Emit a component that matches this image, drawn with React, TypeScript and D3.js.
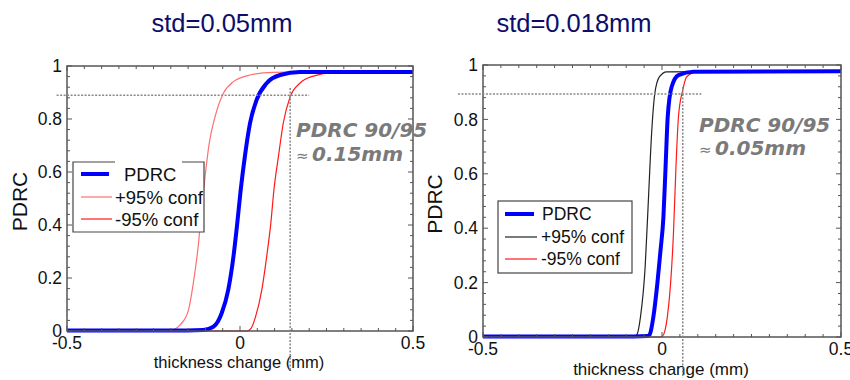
import React from 'react';
import * as d3 from 'd3';

// values: [thickness change (mm), PDRC]
const leftPdrc: [number, number][] = [
  [-0.5, 0.002], [-0.2, 0.002], [-0.106, 0.004], [-0.077, 0.016], [-0.053, 0.067], [-0.034, 0.155],
  [-0.019, 0.28], [-0.008, 0.406], [0.002, 0.532], [0.014, 0.658], [0.029, 0.784],
  [0.048, 0.872], [0.077, 0.935], [0.116, 0.966], [0.173, 0.977], [0.5, 0.977],
];
const leftPlus: [number, number][] = [
  [-0.5, 0.0], [-0.21, 0.0], [-0.193, 0.004], [-0.173, 0.023], [-0.149, 0.079], [-0.135, 0.18],
  [-0.12, 0.33], [-0.111, 0.457], [-0.101, 0.582], [-0.089, 0.708], [-0.072, 0.809],
  [-0.048, 0.897], [-0.019, 0.941], [0.029, 0.966], [0.096, 0.976], [0.27, 0.979], [0.5, 0.979],
];
const leftMinus: [number, number][] = [
  [-0.5, 0.0], [0.02, 0.0], [0.032, 0.01], [0.045, 0.054], [0.063, 0.155], [0.077, 0.28],
  [0.089, 0.406], [0.098, 0.532], [0.111, 0.658], [0.125, 0.784], [0.145, 0.884],
  [0.173, 0.935], [0.212, 0.962], [0.27, 0.975], [0.5, 0.979],
];

const rightPdrc: [number, number][] = [
  [-0.5, 0.002], [-0.12, 0.002], [-0.04, 0.004], [-0.034, 0.01], [-0.024, 0.075], [-0.013, 0.197],
  [-0.004, 0.32], [0.004, 0.442], [0.01, 0.626], [0.016, 0.81], [0.027, 0.92],
  [0.046, 0.963], [0.088, 0.975], [0.5, 0.977],
];
const rightPlus: [number, number][] = [
  [-0.5, 0.0], [-0.08, 0.0], [-0.071, 0.006], [-0.06, 0.075], [-0.047, 0.259], [-0.038, 0.504],
  [-0.029, 0.749], [-0.02, 0.896], [-0.007, 0.957], [0.013, 0.975], [0.5, 0.978],
];
const rightMinus: [number, number][] = [
  [-0.5, 0.0], [-0.005, 0.0], [0.002, 0.004], [0.015, 0.075], [0.024, 0.197], [0.032, 0.381],
  [0.039, 0.626], [0.046, 0.81], [0.058, 0.908], [0.069, 0.957], [0.097, 0.975], [0.5, 0.979],
];

const titles = ['std=0.05mm', 'std=0.018mm'];
const legendLabels = ['PDRC', '+95% conf', '-95% conf'];
const xTicks = [-0.5, 0, 0.5];
const yTicks = [0, 0.2, 0.4, 0.6, 0.8, 1];
const annotations = [['PDRC 90/95', '0.15mm'], ['PDRC 90/95', '0.05mm']];
// guide lines: horizontal [y, x0, x1], vertical [x, y0, y1]
const hGuides = [[0.89, -0.53, 0.2], [0.893, -0.57, 0.11]];
const vGuides = [[0.145, 0.917, -0.147], [0.058, 0.919, -0.15]];

const panels = [
  {
    title: titles[0], titleX: 222, left: 67, right: 413, top: 66, bottom: 331,
    series: [leftPdrc, leftPlus, leftMinus], colors: ['#0000ff', '#ff7070', '#ff1a1a'],
    legend: { x: 73, y: 162, w: 131, h: 70, rows: [174, 197, 219], lx0: 81, lx1: 112, tx: [124, 115, 115], fs: 18.5, gap: true },
    ann: annotations[0], annX: 296, annY: [137, 161], annX2: 312,
    h: hGuides[0], v: vGuides[0], ylab: 27, xlabY: 368, xlabFs: 16.5,
  },
  {
    title: titles[1], titleX: 574, left: 483, right: 841, top: 65, bottom: 337,
    series: [rightPdrc, rightPlus, rightMinus], colors: ['#0000ff', '#222222', '#ff1a1a'],
    legend: { x: 498, y: 201, w: 134, h: 72, rows: [214, 237, 259], lx0: 505, lx1: 537, tx: [542, 541, 541], fs: 17.5, gap: false },
    ann: annotations[1], annX: 699, annY: [132, 155], annX2: 715,
    h: hGuides[1], v: vGuides[1], ylab: 442, xlabY: 375, xlabFs: 17,
  },
];

const fmtY = (d: number) => (d === 0 || d === 1 ? String(d) : d.toFixed(1));
const fmtX = (d: number) => (d === 0 ? '0' : String(d));

function Panel({ p, idx }: { p: any; idx: number }) {
  const x = d3.scaleLinear().domain([-0.5, 0.5]).range([p.left, p.right]);
  const y = d3.scaleLinear().domain([0, 1]).range([p.bottom, p.top]);
  const line = d3.line<[number, number]>()
    .x(d => x(d[0]))
    .y(d => y(d[1]))
    .curve(d3.curveMonotoneX);
  const minorX = d3.range(-0.5, 0.5001, 0.05);
  const minorY = d3.range(0, 1.0001, 0.04);
  const clipId = `clip${idx}`;
  const lg = p.legend;
  const axisColor = '#555';
  const font = 'Arial, "Liberation Sans", sans-serif';
  const annFont = '"DejaVu Sans", Verdana, sans-serif';

  return (
    <g>
      <defs>
        <clipPath id={clipId}>
          <rect x={p.left} y={p.top - 2} width={p.right - p.left} height={p.bottom - p.top + 4} />
        </clipPath>
      </defs>
      <text x={p.titleX} y={32} textAnchor="middle" fontFamily={font} fontSize={25.5} fill="#0d0d6b">{p.title}</text>

      {/* curves */}
      <g clipPath={`url(#${clipId})`}>
        {[2, 1, 0].map(i => (
          <path key={i} d={line(p.series[i]) || ''} fill="none" stroke={p.colors[i]}
            strokeWidth={i === 0 ? 4 : 1.2} strokeLinejoin="round" />
        ))}
      </g>

      {/* ticks */}
      {minorX.map((t: number, i: number) => {
        const len = i % 10 === 0 ? 5 : 3;
        return (
          <g key={'tx' + i} stroke={axisColor} strokeWidth={1}>
            <line x1={x(t)} x2={x(t)} y1={p.bottom} y2={p.bottom - len} />
            <line x1={x(t)} x2={x(t)} y1={p.top} y2={p.top + len} />
          </g>
        );
      })}
      {minorY.map((t: number, i: number) => {
        const len = i % 5 === 0 ? 5 : 3;
        return (
          <g key={'ty' + i} stroke={axisColor} strokeWidth={1}>
            <line x1={p.left} x2={p.left + len} y1={y(t)} y2={y(t)} />
            <line x1={p.right} x2={p.right - len} y1={y(t)} y2={y(t)} />
          </g>
        );
      })}
      <rect x={p.left} y={p.top} width={p.right - p.left} height={p.bottom - p.top}
        fill="none" stroke={axisColor} strokeWidth={1.5} />

      {/* tick labels */}
      {yTicks.map(t => (
        <text key={'yl' + t} x={p.left - 5} y={y(t)} dy="0.35em" textAnchor="end"
          fontFamily={font} fontSize={17.5} fill="#111">{fmtY(t)}</text>
      ))}
      {xTicks.map(t => (
        <text key={'xl' + t} x={x(t)} y={p.bottom + 18} textAnchor="middle"
          fontFamily={font} fontSize={17.5} fill="#111">{fmtX(t)}</text>
      ))}
      <text transform={`translate(${p.ylab},${(p.top + p.bottom) / 2 + 3}) rotate(-90)`} textAnchor="middle"
        fontFamily={font} fontSize={21} fill="#111">PDRC</text>
      <text x={(p.left + p.right) / 2 - 1} y={p.xlabY} textAnchor="middle"
        fontFamily={font} fontSize={p.xlabFs} fill="#111">thickness change (mm)</text>

      {/* legend */}
      <rect x={lg.x} y={lg.y} width={lg.w} height={lg.h} fill="#fff" stroke="none" />
      {lg.gap ? (
        <path d={`M${lg.x + 42},${lg.y}H${lg.x}V${lg.y + lg.h}H${lg.x + lg.w}V${lg.y}H${lg.x + 109}`}
          fill="none" stroke="#444" strokeWidth={1.2} />
      ) : (
        <rect x={lg.x} y={lg.y} width={lg.w} height={lg.h} fill="none" stroke="#444" strokeWidth={1.2} />
      )}
      {legendLabels.map((lab, i) => (
        <g key={lab}>
          <line x1={lg.lx0} x2={i === 0 ? lg.lx1 - 3 : lg.lx1} y1={lg.rows[i]} y2={lg.rows[i]}
            stroke={p.colors[i]} strokeWidth={i === 0 ? 4 : 1.2} />
          <text x={lg.tx[i]} y={lg.rows[i]} dy="0.36em" fontFamily={font} fontSize={lg.fs} fill="#111">{lab}</text>
        </g>
      ))}

      {/* guide lines */}
      <line x1={x(p.h[1])} x2={x(p.h[2])} y1={y(p.h[0])} y2={y(p.h[0])}
        stroke="#888" strokeWidth={1.5} strokeDasharray="2,1.5" />
      <line x1={x(p.v[0])} x2={x(p.v[0])} y1={y(p.v[1])} y2={y(p.v[2])}
        stroke="#888" strokeWidth={1.5} strokeDasharray="2,1.5" />

      {/* annotation */}
      <text x={p.annX} y={p.annY[0]} fontFamily={annFont} fontWeight="bold" fontStyle="italic"
        fontSize={20} fill="#7a7a7a">{p.ann[0]}</text>
      <text x={p.annX} y={p.annY[1]} fontFamily={annFont} fontSize={15} fill="#7a7a7a">≈</text>
      <text x={p.annX2} y={p.annY[1]} fontFamily={annFont} fontWeight="bold" fontStyle="italic"
        fontSize={20} fill="#7a7a7a">{p.ann[1]}</text>
    </g>
  );
}

export default function App() {
  return (
    <svg width={850} height={380} style={{ position: 'absolute', left: 0, top: 0, background: '#fff' }}>
      {panels.map((p, i) => <Panel key={i} p={p} idx={i} />)}
    </svg>
  );
}
